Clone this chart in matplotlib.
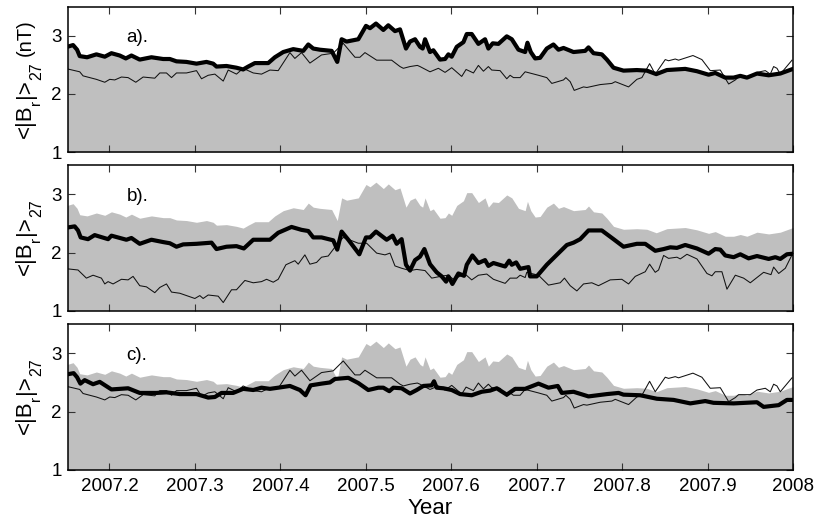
import matplotlib
matplotlib.use("Agg")
import matplotlib.pyplot as plt

plt.rcParams['font.family'] = ['Liberation Sans', 'DejaVu Sans']

thick_a_x = [2007+v for v in [
 .1508,.1575,.1622,.1653,.1739,.1848,.1946,.2024,.2121,.2192,.2258,.2355,.2492,.2629,.2707,.2785,.2902,.3019,.3136,.3214,.3253,.3370,.3487,.3565,.3624,.3702,.3858,.3936,.4034,.4151,.4268,.4327,.4385,.4463,.4600,.4666,.4717,.4775,.4912,.5002,.5049,.5119,.5205,.5263,.5341,.5400,.5470,
 .5517,.5576,.5634,.5665,.5693,.5751,.5790,.5868,.5927,.5966,.6005,.6064,.6142,.6181,.6239,.6317,.6395,.6434,.6485,.6551,.6649,.6708,.6786,.6864,.6891,.6930,.6981,.7039,.7117,.7195,.7254,.7313,.7430,.7566,.7605,.7664,.7761,.7820,.7898,.8015,.8171,.8288,.8398,.8522,.8737,.8874,.9010,.9088,.9205,.9303,.9381,.9459,.9576,.9713,.9849,.9998]]
thick_a_y = [
 2.81,2.84,2.76,2.65,2.63,2.68,2.64,2.70,2.66,2.61,2.66,2.59,2.63,2.60,2.60,2.56,2.55,2.52,2.55,2.52,2.47,2.48,2.45,2.42,2.47,2.53,2.53,2.63,2.72,2.77,2.74,2.85,2.78,2.76,2.74,2.55,2.94,2.90,2.94,3.17,3.13,3.21,3.10,3.18,3.08,3.11,2.78,
 2.90,2.94,2.81,2.78,2.94,2.72,2.75,2.59,2.60,2.68,2.64,2.81,2.89,3.03,3.03,2.86,2.94,2.78,2.87,2.86,2.99,2.94,2.76,2.72,2.88,2.72,2.61,2.62,2.78,2.85,2.76,2.79,2.72,2.74,2.80,2.70,2.68,2.59,2.45,2.40,2.41,2.40,2.34,2.41,2.43,2.39,2.33,2.36,2.28,2.28,2.31,2.28,2.35,2.32,2.35,2.43]

thin_a_x = [2007+v for v in [
 .1508,.1653,.1692,.1848,.1946,.2004,.2063,.2141,.2219,.2309,.2395,.2531,.2590,.2668,.2727,.2785,.2902,.3019,.3078,.3156,.3234,.3332,.3390,.3487,.3565,.3683,.3780,.3878,.3975,.4112,.4170,.4248,.4346,.4482,.4619,.4736,.4873,.4931,.4990,.5127,.5302,.5400,.5439,
 .5517,.5603,.5634,.5751,.5849,.5927,.6005,.6122,.6173,.6259,.6317,.6376,.6434,.6473,.6571,.6649,.6688,.6727,.6805,.6864,.7020,.7117,.7176,.7313,.7340,.7391,.7438,.7547,.7586,.7742,.7879,.7918,.8074,.8171,.8230,.8320,.8386,.8503,.8542,.8620,.8659,.8827,.8932,.9030,.9147,.9245,.9323,.9361,.9498,.9576,.9674,.9732,.9771,.9810,.9849,.9986]]
thin_a_y = [
 2.43,2.38,2.31,2.25,2.20,2.25,2.24,2.29,2.28,2.20,2.29,2.27,2.36,2.36,2.28,2.36,2.36,2.40,2.26,2.32,2.34,2.22,2.41,2.34,2.44,2.36,2.34,2.41,2.40,2.71,2.61,2.71,2.53,2.67,2.70,2.87,2.63,2.63,2.71,2.58,2.58,2.47,2.44,
 2.47,2.49,2.47,2.38,2.44,2.37,2.45,2.30,2.42,2.36,2.49,2.39,2.47,2.41,2.40,2.26,2.32,2.28,2.28,2.38,2.32,2.28,2.18,2.24,2.28,2.21,2.06,2.12,2.11,2.16,2.18,2.21,2.12,2.25,2.28,2.52,2.34,2.59,2.57,2.60,2.58,2.66,2.59,2.40,2.41,2.17,2.24,2.29,2.29,2.37,2.40,2.34,2.47,2.44,2.34,2.58]

thick_b_x = [2007+v for v in [
 .1508,.1594,.1633,.1664,.1750,.1828,.1985,.2024,.2199,.2258,.2355,.2492,.2629,.2707,.2785,.2863,.3019,.3195,.3253,.3370,.3487,.3573,.3683,.3878,.3975,.4131,.4248,.4327,.4385,.4482,.4619,.4666,.4717,.4795,.4924,.5002,.5049,.5119,.5244,.5314,.5361,.5419,.5470,.5517,
 .5576,.5634,.5685,.5751,.5829,.5888,.5939,.5966,.6013,.6083,.6149,.6181,.6247,.6317,.6395,.6434,.6493,.6630,.6677,.6708,.6759,.6805,.6903,.6922,.7000,.7117,.7234,.7352,.7430,.7508,.7605,.7761,.7898,.8015,.8171,.8269,.8386,.8484,.8562,.8640,.8737,.8874,.9010,.9088,.9147,.9205,.9303,.9381,.9478,.9576,.9713,.9791,.9849,.9927,.9998]]
thick_b_y = [
 2.43,2.45,2.38,2.26,2.23,2.30,2.23,2.29,2.22,2.25,2.15,2.22,2.18,2.16,2.10,2.14,2.15,2.17,2.06,2.10,2.11,2.07,2.22,2.22,2.34,2.44,2.39,2.37,2.26,2.26,2.21,2.05,2.36,2.22,1.97,2.26,2.26,2.36,2.22,2.29,2.15,2.23,1.79,1.69,
 1.87,1.93,2.06,1.80,1.66,1.59,1.50,1.59,1.46,1.64,1.60,1.79,1.95,1.82,1.87,1.77,1.82,1.76,1.86,1.79,1.83,1.72,1.75,1.59,1.59,1.79,1.96,2.13,2.17,2.23,2.38,2.38,2.23,2.10,2.15,2.15,2.03,2.06,2.09,2.08,2.13,2.07,1.98,2.06,2.05,1.95,1.92,1.97,1.90,1.94,1.89,1.92,1.89,1.97,1.98]

thin_b_x = [2007+v for v in [
 .1508,.1633,.1731,.1809,.1907,.1946,.1985,.2043,.2141,.2219,.2277,.2355,.2434,.2531,.2590,.2668,.2727,.2824,.3000,.3058,.3097,.3156,.3273,.3332,.3429,.3487,.3585,.3683,.3780,.3839,.3917,.3975,.4065,.4170,.4209,.4287,.4346,.4424,.4482,.4560,.4658,.4736,.4912,.5010,.5127,.5224,.5283,.5341,.5419,.5517,
 .5595,.5693,.5771,.5907,.5966,.6024,.6161,.6239,.6317,.6415,.6493,.6630,.6688,.6766,.6805,.6864,.6883,.7020,.7137,.7274,.7324,.7391,.7469,.7547,.7644,.7722,.7859,.7995,.8074,.8152,.8269,.8320,.8386,.8425,.8484,.8542,.8640,.8679,.8757,.8874,.8991,.9049,.9088,.9166,.9225,.9323,.9420,.9498,.9576,.9654,.9740,.9771,.9830,.9908,.9986]]
thin_b_y = [
 1.72,1.70,1.56,1.61,1.56,1.46,1.50,1.46,1.54,1.53,1.59,1.43,1.41,1.31,1.40,1.46,1.32,1.30,1.21,1.26,1.21,1.27,1.25,1.14,1.36,1.36,1.52,1.48,1.50,1.54,1.49,1.54,1.79,1.86,1.80,1.96,1.80,1.83,1.92,1.94,2.13,2.26,2.16,2.16,1.99,1.96,1.99,1.77,1.73,1.69,
 1.71,1.69,1.56,1.60,1.61,1.54,1.63,1.53,1.61,1.63,1.54,1.47,1.56,1.56,1.61,1.57,1.66,1.61,1.44,1.48,1.56,1.43,1.34,1.46,1.48,1.43,1.53,1.54,1.46,1.59,1.67,1.80,1.66,1.70,1.95,1.90,1.92,1.89,1.97,1.89,1.64,1.60,1.67,1.67,1.37,1.61,1.56,1.48,1.57,1.66,1.62,1.75,1.64,1.73,1.96]

thick_c_x = [2007+v for v in [
 .1508,.1582,.1622,.1661,.1711,.1809,.1887,.2024,.2219,.2355,.2551,.2668,.2824,.3019,.3156,.3234,.3312,.3448,.3565,.3683,.3780,.3878,.3975,.4112,.4229,.4295,.4354,.4482,.4580,.4639,.4795,.4912,.5029,.5146,.5205,.5275,.5322,.5419,.5517,
 .5595,.5673,.5771,.5798,.5829,.5907,.6005,.6103,.6239,.6356,.6454,.6532,.6649,.6747,.6864,.7020,.7137,.7246,.7293,.7430,.7605,.7820,.7957,.8015,.8210,.8405,.8601,.8796,.8971,.9068,.9303,.9576,.9654,.9830,.9927,.9998]]
thick_c_y = [
 2.64,2.66,2.59,2.48,2.54,2.47,2.51,2.38,2.40,2.32,2.32,2.33,2.30,2.30,2.24,2.25,2.32,2.32,2.39,2.37,2.41,2.39,2.41,2.44,2.37,2.28,2.45,2.48,2.50,2.56,2.58,2.49,2.37,2.41,2.41,2.35,2.41,2.40,2.31,
 2.37,2.44,2.45,2.52,2.41,2.40,2.37,2.30,2.28,2.34,2.36,2.40,2.29,2.39,2.39,2.48,2.41,2.44,2.32,2.34,2.26,2.30,2.32,2.29,2.28,2.22,2.20,2.14,2.18,2.15,2.14,2.16,2.08,2.11,2.20,2.20]

x_ticks = [2007.2, 2007.3, 2007.4, 2007.5, 2007.6, 2007.7, 2007.8, 2007.9, 2008]
x_labels = ['2007.2', '2007.3', '2007.4', '2007.5', '2007.6', '2007.7', '2007.8', '2007.9', '2008']
y_ticks = [1, 2, 3]
panel_labels = ['a).', 'b).', 'c).']
ylabel_parts = ['<|B', 'r', '|>', '27']
ylabel_unit = '(nT)'

W, H = 816, 520
fig = plt.figure(figsize=(W/100, H/100), dpi=100)
left, right = 67.5, 793.2
tops = [6.7, 165.3, 324.3]
bots = [152.0, 310.7, 469.7]
label_start = [138, 275, 434]
grey = '#bfbfbf'

thick = [(thick_a_x, thick_a_y), (thick_b_x, thick_b_y), (thick_c_x, thick_c_y)]
thin = [(thin_a_x, thin_a_y), (thin_b_x, thin_b_y), (thin_a_x, thin_a_y)]


def vtext(xp, yp, s, size):
    fig.text(xp/W, 1-yp/H, s, rotation=90, fontsize=size, ha='left', va='baseline',
             rotation_mode='anchor')


for i in range(3):
    ax = fig.add_axes([left/W, 1-bots[i]/H, (right-left)/W, (bots[i]-tops[i])/H])
    ax.fill_between(thick_a_x, 1, thick_a_y, color=grey, lw=0, zorder=1)
    ax.plot(*thin[i], color='#111111', lw=0.75, zorder=2)
    ax.plot(*thick[i], color='black', lw=3.0, solid_joinstyle='round', zorder=3)
    ax.set_xlim(2007.151, 2008)
    ax.set_ylim(1, 3.5)
    ax.set_yticks(y_ticks)
    ax.set_xticks(x_ticks)
    if i == 2:
        ax.set_xticklabels(x_labels)
        ax.set_xlabel('Year', fontsize=16, labelpad=2)
    else:
        ax.set_xticklabels([])
    ax.tick_params(direction='in', top=True, right=True, length=5, width=0.8,
                   color='#333333', labelsize=13.5, zorder=5)
    ax.tick_params(axis='x', pad=6)
    ax.tick_params(axis='y', pad=4)
    for s in ax.spines.values():
        s.set_linewidth(1.1)
        s.set_zorder(6)
    ax.text(2007.22, 2.97, panel_labels[i], fontsize=13.5, va='center', ha='left')
    s0 = label_start[i]
    vtext(31, s0, ylabel_parts[0], 16)
    vtext(40, s0-33, ylabel_parts[1], 11)
    vtext(31, s0-40, ylabel_parts[2], 16)
    vtext(41.5, s0-58, ylabel_parts[3], 11.5)
    if i == 0:
        vtext(31, s0-82, ylabel_unit, 14.5)

fig.savefig('out.png', dpi=100)
